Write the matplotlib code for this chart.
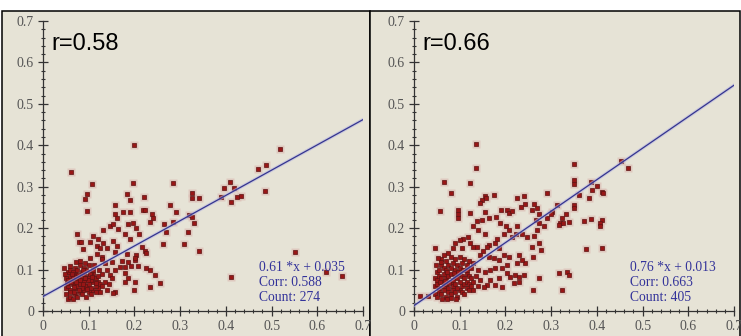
import numpy as np
import matplotlib.pyplot as plt
from matplotlib.patches import Rectangle
from matplotlib.ticker import MultipleLocator

# --- datos ---
left_r = "r=0.58"
right_r = "r=0.66"
left_fit = (0.61, 0.035)
right_fit = (0.76, 0.013)
left_stats = ["0.61 *x + 0.035", "Corr: 0.588", "Count: 274"]
right_stats = ["0.76 *x + 0.013", "Corr: 0.663", "Count: 405"]
ticks = [0, 0.1, 0.2, 0.3, 0.4, 0.5, 0.6, 0.7]
tick_labels = ["0", "0.1", "0.2", "0.3", "0.4", "0.5", "0.6", "0.7"]

# puntos dispersos del panel izquierdo
left_pts = [
    (0.061, 0.335), (0.198, 0.40), (0.107, 0.307), (0.096, 0.282), (0.092, 0.27), (0.096, 0.241),
    (0.196, 0.31), (0.285, 0.31), (0.519, 0.392), (0.488, 0.353), (0.47, 0.342), (0.485, 0.29),
    (0.396, 0.298), (0.41, 0.312), (0.418, 0.298), (0.411, 0.264), (0.425, 0.276), (0.433, 0.278),
    (0.39, 0.276), (0.326, 0.285), (0.325, 0.273), (0.341, 0.273), (0.32, 0.232), (0.326, 0.228),
    (0.331, 0.212), (0.317, 0.191), (0.309, 0.162), (0.342, 0.146), (0.278, 0.256), (0.292, 0.238),
    (0.285, 0.214), (0.27, 0.191), (0.262, 0.162), (0.265, 0.21), (0.552, 0.143), (0.411, 0.081),
    (0.654, 0.085), (0.22, 0.276), (0.183, 0.282), (0.19, 0.268), (0.158, 0.256), (0.176, 0.238),
    (0.19, 0.24), (0.218, 0.245), (0.224, 0.245), (0.238, 0.233), (0.24, 0.224), (0.234, 0.216),
    (0.158, 0.234), (0.161, 0.224), (0.147, 0.206), (0.154, 0.21), (0.132, 0.196), (0.165, 0.197),
    (0.18, 0.187), (0.187, 0.21), (0.196, 0.213), (0.204, 0.2), (0.191, 0.173), (0.211, 0.187),
    (0.074, 0.187), (0.078, 0.166), (0.083, 0.166), (0.11, 0.182), (0.121, 0.174), (0.103, 0.166),
    (0.118, 0.157), (0.124, 0.151), (0.132, 0.163), (0.139, 0.153), (0.154, 0.17), (0.161, 0.158),
    (0.158, 0.143), (0.118, 0.138), (0.128, 0.131), (0.103, 0.127), (0.088, 0.15), (0.216, 0.154),
    (0.223, 0.146), (0.226, 0.139), (0.204, 0.135), (0.183, 0.138), (0.187, 0.119), (0.201, 0.123),
    (0.172, 0.121), (0.15, 0.119), (0.193, 0.109), (0.208, 0.109), (0.226, 0.103), (0.234, 0.099),
    (0.245, 0.087), (0.201, 0.129), (0.18, 0.107), (0.169, 0.107), (0.18, 0.091), (0.158, 0.099),
    (0.147, 0.087), (0.187, 0.079), (0.201, 0.071), (0.198, 0.051), (0.18, 0.071), (0.158, 0.047),
    (0.154, 0.043), (0.234, 0.059), (0.256, 0.067), (0.62, 0.095),
    (0.05, 0.04), (0.055, 0.03), (0.06, 0.035), (0.065, 0.03), (0.07, 0.04), (0.075, 0.035),
    (0.08, 0.045), (0.085, 0.04), (0.09, 0.05), (0.095, 0.035), (0.1, 0.045), (0.105, 0.04),
    (0.11, 0.05), (0.115, 0.045), (0.12, 0.055), (0.05, 0.055), (0.055, 0.06), (0.06, 0.05),
    (0.065, 0.065), (0.07, 0.055), (0.075, 0.06), (0.08, 0.065), (0.085, 0.055), (0.09, 0.07),
    (0.095, 0.06), (0.1, 0.065), (0.105, 0.055), (0.11, 0.07), (0.115, 0.06), (0.12, 0.07),
    (0.125, 0.065), (0.05, 0.08), (0.055, 0.075), (0.06, 0.085), (0.065, 0.08), (0.07, 0.09),
    (0.075, 0.075), (0.08, 0.085), (0.085, 0.08), (0.09, 0.09), (0.095, 0.08), (0.1, 0.085),
    (0.105, 0.075), (0.11, 0.09), (0.115, 0.08), (0.12, 0.085), (0.055, 0.095), (0.06, 0.1),
    (0.065, 0.095), (0.07, 0.105), (0.075, 0.1), (0.08, 0.11), (0.085, 0.095), (0.09, 0.105),
    (0.095, 0.1), (0.1, 0.11), (0.105, 0.095), (0.11, 0.1), (0.045, 0.105), (0.048, 0.09),
    (0.058, 0.108), (0.072, 0.118), (0.082, 0.12), (0.092, 0.115), (0.078, 0.05), (0.068, 0.045),
    (0.088, 0.065), (0.098, 0.075), (0.062, 0.07), (0.072, 0.07), (0.082, 0.075), (0.092, 0.08),
    (0.102, 0.09), (0.112, 0.11), (0.122, 0.1), (0.125, 0.045), (0.13, 0.06), (0.135, 0.07),
    (0.14, 0.05), (0.145, 0.065), (0.13, 0.09), (0.14, 0.1), (0.15, 0.08), (0.135, 0.115),
    (0.128, 0.125), (0.052, 0.068), (0.058, 0.045), (0.067, 0.058), (0.077, 0.088), (0.087, 0.1),
    (0.097, 0.052), (0.107, 0.082), (0.117, 0.068), (0.063, 0.09), (0.073, 0.082),
]

# puntos dispersos del panel derecho
right_pts = [
    (0.136, 0.402), (0.136, 0.344), (0.123, 0.31), (0.065, 0.312), (0.081, 0.286), (0.056, 0.241),
    (0.045, 0.151), (0.349, 0.354), (0.35, 0.316), (0.349, 0.307), (0.349, 0.257), (0.35, 0.248),
    (0.387, 0.312), (0.401, 0.302), (0.39, 0.292), (0.411, 0.288), (0.413, 0.284), (0.382, 0.272),
    (0.36, 0.28), (0.411, 0.22), (0.406, 0.212), (0.407, 0.204), (0.387, 0.222), (0.372, 0.218),
    (0.376, 0.149), (0.411, 0.151), (0.453, 0.363), (0.468, 0.344), (0.291, 0.284), (0.302, 0.24),
    (0.313, 0.257), (0.324, 0.224), (0.32, 0.213), (0.327, 0.213), (0.338, 0.216), (0.333, 0.233),
    (0.318, 0.207), (0.299, 0.235), (0.29, 0.224), (0.284, 0.204), (0.273, 0.235), (0.27, 0.248),
    (0.263, 0.258), (0.259, 0.244), (0.241, 0.277), (0.242, 0.258), (0.233, 0.252), (0.226, 0.272),
    (0.203, 0.245), (0.207, 0.236), (0.214, 0.242), (0.266, 0.22), (0.273, 0.212), (0.27, 0.196),
    (0.262, 0.18), (0.273, 0.163), (0.277, 0.147), (0.259, 0.155), (0.261, 0.131), (0.243, 0.115),
    (0.241, 0.087), (0.273, 0.08), (0.261, 0.051), (0.324, 0.051), (0.317, 0.091), (0.335, 0.095),
    (0.338, 0.087), (0.156, 0.278), (0.158, 0.272), (0.149, 0.268), (0.175, 0.28), (0.191, 0.245),
    (0.18, 0.228), (0.165, 0.224), (0.156, 0.24), (0.145, 0.26), (0.123, 0.236), (0.097, 0.244),
    (0.097, 0.234), (0.097, 0.224), (0.149, 0.22), (0.137, 0.217), (0.13, 0.204), (0.14, 0.196),
    (0.156, 0.187), (0.188, 0.213), (0.201, 0.204), (0.207, 0.196), (0.226, 0.204), (0.223, 0.187),
    (0.214, 0.178), (0.237, 0.187), (0.248, 0.178), (0.196, 0.187), (0.182, 0.175), (0.178, 0.163),
    (0.186, 0.151), (0.165, 0.16), (0.16, 0.154), (0.152, 0.146), (0.119, 0.178), (0.108, 0.175),
    (0.101, 0.171), (0.09, 0.163), (0.086, 0.151), (0.104, 0.151), (0.123, 0.165), (0.13, 0.155),
    (0.137, 0.154), (0.145, 0.135), (0.163, 0.131), (0.174, 0.127), (0.186, 0.123), (0.196, 0.135),
    (0.207, 0.131), (0.23, 0.135), (0.237, 0.123), (0.226, 0.115), (0.204, 0.111), (0.193, 0.103),
    (0.178, 0.103), (0.167, 0.099), (0.156, 0.095), (0.204, 0.091), (0.211, 0.083), (0.222, 0.087),
    (0.23, 0.083), (0.219, 0.067), (0.23, 0.071), (0.186, 0.079), (0.193, 0.059), (0.178, 0.063),
    (0.16, 0.063), (0.167, 0.075), (0.153, 0.059), (0.013, 0.036), (0.031, 0.036),
    (0.045, 0.04), (0.05, 0.035), (0.055, 0.045), (0.06, 0.04), (0.065, 0.05), (0.07, 0.035),
    (0.075, 0.045), (0.08, 0.04), (0.085, 0.05), (0.09, 0.045), (0.095, 0.035), (0.1, 0.05),
    (0.105, 0.045), (0.11, 0.04), (0.115, 0.055), (0.12, 0.05), (0.045, 0.06), (0.05, 0.065),
    (0.055, 0.055), (0.06, 0.07), (0.065, 0.06), (0.07, 0.065), (0.075, 0.055), (0.08, 0.07),
    (0.085, 0.06), (0.09, 0.065), (0.095, 0.055), (0.1, 0.07), (0.105, 0.06), (0.11, 0.065),
    (0.115, 0.07), (0.12, 0.065), (0.125, 0.06), (0.045, 0.08), (0.05, 0.075), (0.055, 0.085),
    (0.06, 0.08), (0.065, 0.09), (0.07, 0.08), (0.075, 0.085), (0.08, 0.09), (0.085, 0.075),
    (0.09, 0.085), (0.095, 0.08), (0.1, 0.09), (0.105, 0.085), (0.11, 0.08), (0.115, 0.09),
    (0.12, 0.085), (0.125, 0.08), (0.05, 0.095), (0.055, 0.1), (0.06, 0.11), (0.065, 0.105),
    (0.07, 0.1), (0.075, 0.11), (0.08, 0.105), (0.085, 0.115), (0.09, 0.1), (0.095, 0.11),
    (0.1, 0.105), (0.105, 0.115), (0.11, 0.1), (0.115, 0.11), (0.12, 0.12), (0.125, 0.105),
    (0.06, 0.125), (0.07, 0.12), (0.08, 0.13), (0.09, 0.125), (0.1, 0.13), (0.11, 0.125),
    (0.065, 0.135), (0.075, 0.14), (0.058, 0.118), (0.048, 0.112), (0.052, 0.128), (0.13, 0.07),
    (0.135, 0.085), (0.14, 0.1), (0.13, 0.115), (0.145, 0.075), (0.14, 0.06), (0.13, 0.05),
    (0.072, 0.03), (0.082, 0.032), (0.062, 0.028), (0.092, 0.03), (0.067, 0.072), (0.077, 0.068),
    (0.087, 0.092), (0.097, 0.095), (0.057, 0.07), (0.107, 0.1), (0.117, 0.098), (0.073, 0.093),
]

bg = "#e6e3d6"
dot_face = "#981616"
dot_edge = "#5c1212"
halo = "#dcbdb4"
line_col = "#34348f"
text_col = "#33339a"

fig = plt.figure(figsize=(7.41, 3.36), dpi=100)
fig.patch.set_facecolor("white")

W, H = 741.0, 336.0
# fondos de cada panel con marco negro (linea comun entre paneles)
for (x0, x1) in [(1.5, 369.5), (369.5, 740)]:
    fig.patches.append(Rectangle((x0 / W, -0.01), (x1 - x0) / W, (H - 11) / H + 0.01,
                                 transform=fig.transFigure, facecolor=bg,
                                 edgecolor="black", linewidth=1.1, zorder=-10))

panels = [
    (43, left_pts, left_fit, left_r, left_stats),
    (414, right_pts, right_fit, right_r, right_stats),
]

for (px, pts, fit, rtxt, stats) in panels:
    ax = fig.add_axes([px / W, (H - 311) / H, 320 / W, 290 / H])
    ax.set_zorder(5)
    ax.patch.set_alpha(0)
    pts = np.array(pts)
    ax.plot(pts[:, 0], pts[:, 1], "s", ms=5.5, color=halo, mec="none", alpha=0.7, zorder=2,
            clip_on=False)
    ax.plot(pts[:, 0], pts[:, 1], "s", ms=3.2, mfc=dot_face, mec=dot_edge, mew=0.5, zorder=3,
            clip_on=False)

    xs = np.array([0.0, 0.7])
    ax.plot(xs, fit[0] * xs + fit[1], color="#b8b8e0", lw=2.4, zorder=4, alpha=0.6)
    ax.plot(xs, fit[0] * xs + fit[1], color=line_col, lw=0.9, zorder=5)

    ax.text(0.0175, 0.63, rtxt, fontsize=17, family="Liberation Sans", color="black",
            va="baseline", ha="left")
    for i, s in enumerate(stats):
        ax.text(0.4725, 0.106 - i * 0.037, s, fontsize=9.8, family="Liberation Serif",
                color=text_col, va="center", ha="left", zorder=6)

    ax.set_xlim(0, 0.7)
    ax.set_ylim(0, 0.7)
    for side in ["top", "right"]:
        ax.spines[side].set_visible(False)
    for side in ["left", "bottom"]:
        ax.spines[side].set_color("#333333")
        ax.spines[side].set_linewidth(0.9)
    ax.set_xticks(ticks)
    ax.set_xticklabels(tick_labels)
    ax.set_yticks(ticks)
    ax.set_yticklabels(tick_labels)
    ax.xaxis.set_minor_locator(MultipleLocator(0.02))
    ax.yaxis.set_minor_locator(MultipleLocator(0.02))
    ax.tick_params(which="major", direction="inout", length=7, width=0.9, color="#333333",
                   labelsize=10, labelcolor="#555555", pad=3)
    ax.tick_params(which="minor", direction="inout", length=3.5, width=0.8, color="#333333")
    for lab in ax.get_xticklabels() + ax.get_yticklabels():
        lab.set_family("Liberation Serif")

fig.savefig("out.png", dpi=100, facecolor=fig.get_facecolor())
